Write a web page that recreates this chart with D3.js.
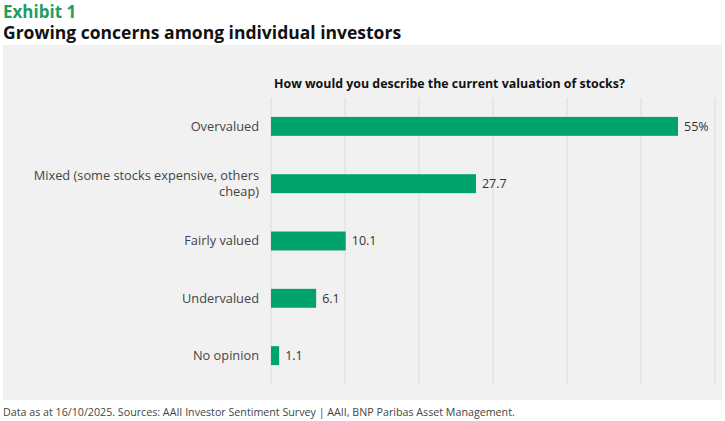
<!DOCTYPE html>
<html><head><meta charset="utf-8">
<script src="https://cdn.jsdelivr.net/npm/d3@7"></script>
<style>body{margin:0;background:#fff;font-family:"Open Sans",sans-serif;}</style>
</head><body><div id="chart"></div>
<script>
// data
const categories = ['Overvalued', 'Mixed (some stocks expensive, others cheap)', 'Fairly valued', 'Undervalued', 'No opinion'];
const values = [55, 27.7, 10.1, 6.1, 1.1];
const labels = ['55%', '27.7', '10.1', '6.1', '1.1'];
const ticks = [0, 10, 20, 30, 40, 50, 60];

const width = 725, height = 421;
const svg = d3.select('#chart').append('svg').attr('width', width).attr('height', height);

svg.append('text').attr('x', 3).attr('y', 18).attr('fill', '#1e9e62')
    .style('font-size', '17px').style('font-weight', 700).text('Exhibit 1');
svg.append('text').attr('x', 3).attr('y', 39).attr('fill', '#111')
    .style('font-size', '17.5px').style('font-weight', 700).text('Growing concerns among individual investors');

svg.append('rect').attr('x', 3).attr('y', 45).attr('width', 719).attr('height', 355).attr('fill', '#f1f1f1');

svg.append('text').attr('x', 274).attr('y', 88).attr('fill', '#111')
    .style('font-size', '12.4px').style('font-weight', 700)
    .text('How would you describe the current valuation of stocks?');

const x = d3.scaleLinear().domain([0, 60]).range([271, 715]);
const y = d3.scaleBand().domain(categories).range([98, 384]).paddingInner(0.67).paddingOuter(0.33);

svg.append('g').selectAll('line').data(ticks).join('line')
    .attr('x1', d => x(d)).attr('x2', d => x(d)).attr('y1', 98).attr('y2', 385)
    .attr('stroke', '#dcdcdc').attr('stroke-width', 1);

svg.append('g').selectAll('rect').data(values).join('rect')
    .attr('x', x(0)).attr('y', (d, i) => y(categories[i]))
    .attr('width', d => x(d) - x(0)).attr('height', y.bandwidth())
    .attr('fill', '#00a36c');

svg.append('g').selectAll('text').data(labels).join('text')
    .attr('x', (d, i) => x(values[i]) + 6).attr('y', (d, i) => y(categories[i]) + y.bandwidth() / 2)
    .attr('dy', '0.35em').attr('fill', '#333').style('font-size', '12.5px').text(d => d);

// category labels, the long one wraps onto two lines
const catLines = [['Overvalued'], ['Mixed (some stocks expensive, others', 'cheap)'], ['Fairly valued'], ['Undervalued'], ['No opinion']];
const lab = svg.append('g').selectAll('g').data(catLines).join('g')
    .attr('transform', (d, i) => `translate(259,${y(categories[i]) + y.bandwidth() / 2})`);
lab.selectAll('text').data(d => d.map((t, j) => ({t, j, n: d.length}))).join('text')
    .attr('text-anchor', 'end').attr('fill', '#444').style('font-size', '12.8px')
    .attr('y', d => (d.j - (d.n - 1) / 2) * 16).attr('dy', '0.35em').text(d => d.t);

svg.append('text').attr('x', 3).attr('y', 416).attr('fill', '#444').style('font-size', '10.7px')
    .text('Data as at 16/10/2025. Sources: AAII Investor Sentiment Survey | AAII, BNP Paribas Asset Management.');
</script></body></html>
